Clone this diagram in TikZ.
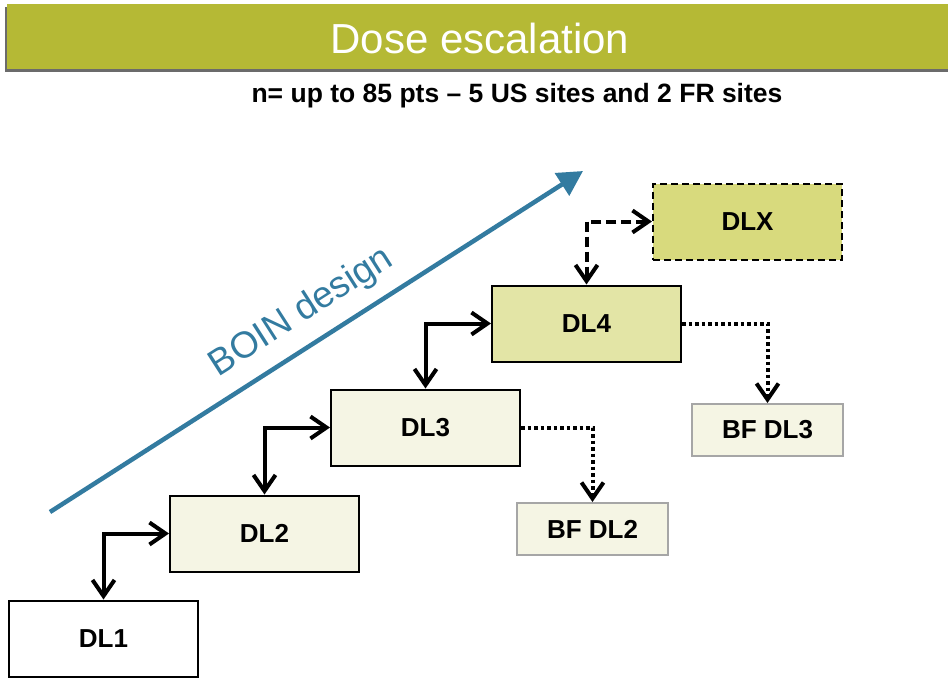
\documentclass[tikz,border=0pt]{standalone}
\usepackage{fontspec}
\setmainfont{Liberation Sans}
\setsansfont{Liberation Sans}
\usepackage{tikz}
\usetikzlibrary{positioning,arrows.meta,calc}
\definecolor{ink}       {HTML}{000000}
\definecolor{bannerfill}{HTML}{B5B935}
\definecolor{bannershade}{HTML}{6B6B6B}
\definecolor{boinblue}  {HTML}{337BA0}
\definecolor{palefill}  {HTML}{F5F5E4}
\definecolor{midfill}   {HTML}{E3E5A6}
\definecolor{deepfill}  {HTML}{D8DA7D}
\definecolor{bfline}    {HTML}{A6A6A6}
\tikzset{
  >={Straight Barb[length=16pt,width=22pt]},
  every node/.style={font=\sffamily},
  % --- nodes
  dl/.style    = {draw=ink, line width=2pt, fill=white, inner sep=0pt,
                  minimum width=189pt, minimum height=76pt,
                  font=\sffamily\bfseries\fontsize{26}{30}\selectfont},
  dlpale/.style= {dl, fill=palefill},
  dlmid/.style = {dl, fill=midfill},
  dlx/.style   = {dl, fill=deepfill, dash pattern=on 7pt off 4pt},
  bf/.style    = {dl, draw=bfline, fill=palefill, minimum width=151pt, minimum height=52pt},
  % --- edges
  e/.style     = {<->, line width=4pt, draw=ink},
  ed/.style    = {e, dash pattern=on 10pt off 5pt},
  edot/.style  = {->, line width=4pt, draw=ink, dash pattern=on 3.5pt off 3pt},
  boin/.style  = {-{Triangle[length=25pt,width=26pt]}, line width=4.5pt, draw=boinblue},
}

\begin{document}
\begin{tikzpicture}[
  x=1pt, y=-1pt,
  ttl/.style={text=white, inner sep=0pt, font=\sffamily\fontsize{42}{48}\selectfont},
  sub/.style={inner sep=0pt, font=\sffamily\bfseries\fontsize{26.5}{30}\selectfont},
  blbl/.style={text=boinblue, inner sep=0pt, font=\sffamily\fontsize{37}{40}\selectfont},
]
  \useasboundingbox (0,0) rectangle (948,681);
  % banner
  \fill[bannershade] (5,7) rectangle (948,72);
  \fill[bannerfill] (7,4) rectangle (948,69);
  \node[ttl] (title) at (480,38) {Dose escalation};
  \node[sub, anchor=base] (sub) at (517,102) {n= up to 85 pts -- 5 US sites and 2 FR sites};

  \node[dl]     (dl1)   at (103.5,638.5) {DL1};
  \node[dlpale] (dl2)   at (264.5,533.5) {DL2};
  \node[dlpale] (dl3)   at (425.5,427.5) {DL3};
  \node[dlmid]  (dl4)   at (586.5,323.5) {DL4};
  \node[dlx]    (dlx)   at (747.5,221.5) {DLX};
  \node[bf]     (bfdl2) at (592.5,529)   {BF DL2};
  \node[bf]     (bfdl3) at (767.5,430)   {BF DL3};

  \draw[e] (dl2.west) -| (dl1.north);
  \draw[e] (dl3.west) -| (dl2.north);
  \draw[e] (dl4.west) -| (dl3.north);
  \draw[ed] (dlx.west) -| (dl4.north);
  \draw[edot] (dl3.east) -| (bfdl2.north);
  \draw[edot] (dl4.east) -| (bfdl3.north);

  \coordinate (boinstart) at (50,512);
  \coordinate (boinend) at (583,171);
  \draw[boin] (boinstart) -- node[blbl, pos=0.505, sloped, above=13pt] (boinlbl) {BOIN design} (boinend);
\end{tikzpicture}
\end{document}
